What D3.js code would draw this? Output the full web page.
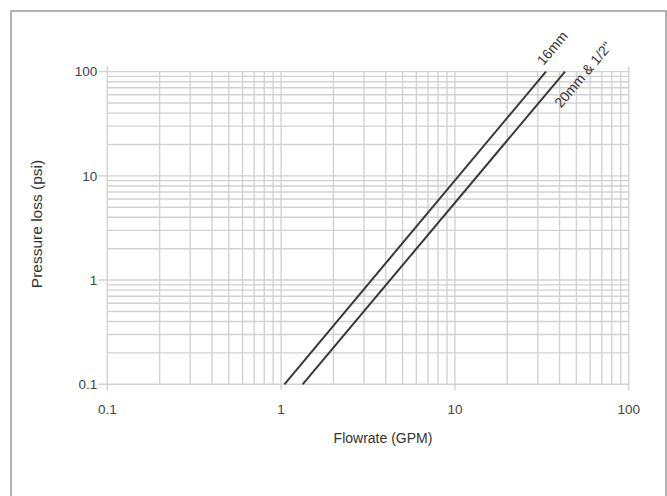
<!DOCTYPE html>
<html>
<head>
<meta charset="utf-8">
<script src="https://cdn.jsdelivr.net/npm/d3@7/dist/d3.min.js"></script>
<style>
html,body{margin:0;padding:0;background:#fff;}
svg{display:block;}
</style>
</head>
<body>
<svg id="chart" width="667" height="496"></svg>
<script>
// ---- data ----
const xDomain = [0.1, 100];
const yDomain = [0.1, 100];
const xTickLabels = ["0.1", "1", "10", "100"];
const yTickLabels = ["0.1", "1", "10", "100"];
const seriesNames = ["16mm", "20mm & 1/2\""];
const series16mmFlow = [1.045, 33.4];
const series16mmLoss = [0.1, 100];
const series20mmFlow = [1.33, 43.0];
const series20mmLoss = [0.1, 100];
const xTitle = "Flowrate (GPM)";
const yTitle = "Pressure loss (psi)";

(function () {
const svg = d3.select("#chart");
const pLeft = 107.3, pRight = 628.7, pTop = 71.6, pBottom = 384.3;
const font = "Liberation Sans, Arial, sans-serif";

const x = d3.scaleLog().domain(xDomain).range([pLeft, pRight]);
const y = d3.scaleLog().domain(yDomain).range([pBottom, pTop]);

// outer frame
svg.append("rect").attr("x", 11).attr("y", 11).attr("width", 655).attr("height", 500)
  .attr("fill", "none").attr("stroke", "#9a9a9a").attr("stroke-width", 1.5);

const gridColor = "#d2d2d2";
const g = svg.append("g");

const xt = x.ticks();
const yt = y.ticks();
const majors = [0.1, 1, 10, 100];
const isMajor = v => majors.some(m => Math.abs(v - m) / m < 1e-9);
const isEdge = v => Math.abs(v - xDomain[0]) / xDomain[0] < 1e-9 || Math.abs(v - xDomain[1]) / xDomain[1] < 1e-9;

// horizontal grid
g.selectAll("line.hy").data(yt).enter().append("line")
  .attr("x1", d => isMajor(d) ? pLeft - 9 : pLeft).attr("x2", pRight)
  .attr("y1", d => y(d)).attr("y2", d => y(d))
  .attr("stroke", gridColor).attr("stroke-width", 1.4);

// vertical grid
g.selectAll("line.vx").data(xt).enter().append("line")
  .attr("x1", d => x(d)).attr("x2", d => x(d))
  .attr("y1", d => isEdge(d) ? pTop - 5 : pTop)
  .attr("y2", d => isMajor(d) ? pBottom + 6 : pBottom)
  .attr("stroke", gridColor).attr("stroke-width", 1.4);

// tick labels
svg.selectAll("text.yl").data(yTickLabels).enter().append("text")
  .attr("x", pLeft - 10).attr("y", d => y(+d)).attr("dy", "0.35em")
  .attr("text-anchor", "end").attr("font-family", font).attr("font-size", 13.5)
  .attr("fill", "#444").text(d => d);
svg.selectAll("text.xl").data(xTickLabels).enter().append("text")
  .attr("x", d => x(+d)).attr("y", pBottom + 25).attr("dy", "0.35em")
  .attr("text-anchor", "middle").attr("font-family", font).attr("font-size", 13.5)
  .attr("fill", "#444").text(d => d);

// axis titles
svg.append("text").attr("x", 383).attr("y", 443)
  .attr("text-anchor", "middle").attr("font-family", font)
  .attr("font-size", 14).attr("fill", "#333").text(xTitle);
svg.append("text").attr("transform", "translate(42,224) rotate(-90)")
  .attr("text-anchor", "middle").attr("font-family", font)
  .attr("font-size", 15.5).attr("fill", "#333").text(yTitle);

// lines
const lineGen = d3.line().x(d => x(d[0])).y(d => y(d[1]));
const s16 = series16mmFlow.map((v, i) => [v, series16mmLoss[i]]);
const s20 = series20mmFlow.map((v, i) => [v, series20mmLoss[i]]);
[s16, s20].forEach(s => {
  svg.append("path").attr("d", lineGen(s)).attr("fill", "none")
    .attr("stroke", "#383838").attr("stroke-width", 2);
});

// labels
const lx16 = x(series16mmFlow[1]) - 2.5, ly16 = y(series16mmLoss[1]) - 5.5;
svg.append("text").attr("transform", `translate(${lx16},${ly16}) rotate(-50)`)
  .attr("font-family", font).attr("font-size", 14)
  .attr("fill", "#333").text(seriesNames[0]);
const lx20 = x(series20mmFlow[1]) - 4, ly20 = y(series20mmLoss[1]) + 37;
svg.append("text").attr("transform", `translate(${lx20},${ly20}) rotate(-50)`)
  .attr("font-family", font).attr("font-size", 14)
  .attr("fill", "#333").text(seriesNames[1]);
})();
</script>
</body>
</html>
